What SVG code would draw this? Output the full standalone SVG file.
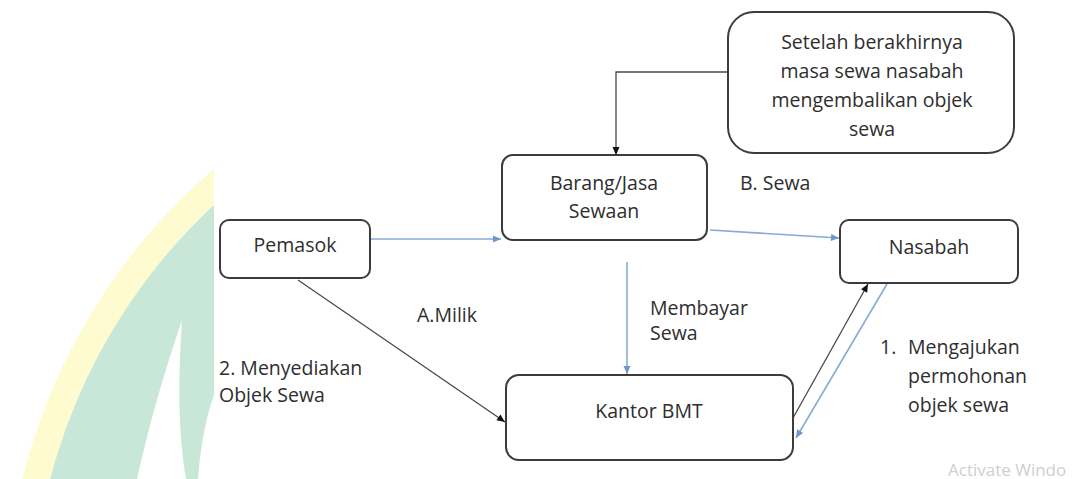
<svg xmlns="http://www.w3.org/2000/svg" width="1073" height="479" viewBox="0 0 1073 479">
<style>
.box{fill:#fff;stroke:#3c3c3c;stroke-width:2}
.t{font-family:"Open Sans","Liberation Sans",sans-serif;font-size:19.5px;fill:#2e2e2e}
.c{text-anchor:middle}
.blue{stroke:#86acd4;stroke-width:1.6;fill:none}
.dark{stroke:#4a4a4a;stroke-width:1.3;fill:none}
</style>
<defs>
<marker id="ab" markerWidth="10" markerHeight="10" refX="9" refY="5" orient="auto" markerUnits="userSpaceOnUse"><path d="M1,1.5 L9,5 L1,8.5 Z" fill="#6f98c6"/></marker>
<marker id="ad" markerWidth="10" markerHeight="10" refX="9" refY="5" orient="auto" markerUnits="userSpaceOnUse"><path d="M1,1.5 L9,5 L1,8.5 Z" fill="#111"/></marker>
<clipPath id="wm"><rect x="0" y="0" width="214" height="479"/></clipPath>
</defs>
<rect width="1073" height="479" fill="#fff"/>
<g id="watermark" clip-path="url(#wm)">
<circle cx="601" cy="622" r="596" fill="#fdfbcf"/>
<circle cx="601" cy="622" r="569" fill="#c9e7d8"/>
<path d="M182,320 C165,370 150,420 137,479 L186,479 C178,430 178,380 182,320 Z" fill="#fff"/>
<path d="M214,395 C205,420 200,450 198,479 L214,479 Z" fill="#fff"/>
</g>
<g id="connectors">
<line class="blue" x1="371" y1="239" x2="501" y2="239" marker-end="url(#ab)"/>
<line class="blue" x1="710" y1="230" x2="839" y2="238" marker-end="url(#ab)"/>
<line class="blue" x1="627" y1="262" x2="627" y2="374" marker-end="url(#ab)"/>
<line class="dark" x1="298" y1="280" x2="505" y2="422" marker-end="url(#ad)"/>
<line class="dark" x1="793" y1="418" x2="868" y2="284" marker-end="url(#ad)"/>
<line class="blue" x1="887" y1="284" x2="796" y2="438" marker-end="url(#ab)"/>
<polyline class="dark" points="728,72 616,72 616,155" marker-end="url(#ad)"/>
</g>
<g id="node-setelah">
<rect class="box" x="728" y="12" width="286" height="141" rx="26"/>
<text class="t c" x="872" y="49">Setelah berakhirnya</text>
<text class="t c" x="872" y="78">masa sewa nasabah</text>
<text class="t c" x="872" y="107">mengembalikan objek</text>
<text class="t c" x="872" y="136">sewa</text>
</g>
<g id="node-barang">
<rect class="box" x="502" y="155" width="205" height="85" rx="11"/>
<text class="t c" x="604" y="190">Barang/Jasa</text>
<text class="t c" x="604" y="218">Sewaan</text>
</g>
<g id="node-pemasok">
<rect class="box" x="220" y="220" width="150" height="58" rx="9"/>
<text class="t c" x="295" y="252">Pemasok</text>
</g>
<g id="node-nasabah">
<rect class="box" x="840" y="220" width="178" height="63" rx="9"/>
<text class="t c" x="929" y="254">Nasabah</text>
</g>
<g id="node-kantor">
<rect class="box" x="506" y="375" width="287" height="85" rx="13"/>
<text class="t c" x="649" y="418">Kantor BMT</text>
</g>
<g id="labels">
<text class="t" x="740" y="190">B. Sewa</text>
<text class="t" x="417" y="322">A.Milik</text>
<text class="t" x="650" y="315">Membayar</text>
<text class="t" x="650" y="340">Sewa</text>
<text class="t" x="219" y="375">2. Menyediakan</text>
<text class="t" x="219" y="402">Objek Sewa</text>
<text class="t" x="880" y="354">1.</text>
<text class="t" x="908" y="354">Mengajukan</text>
<text class="t" x="908" y="383">permohonan</text>
<text class="t" x="908" y="412">objek sewa</text>
<text x="948" y="476" style="font-family:'Open Sans','Liberation Sans',sans-serif;font-size:17px;fill:#cfcfcf">Activate Windo</text>
</g>
</svg>
